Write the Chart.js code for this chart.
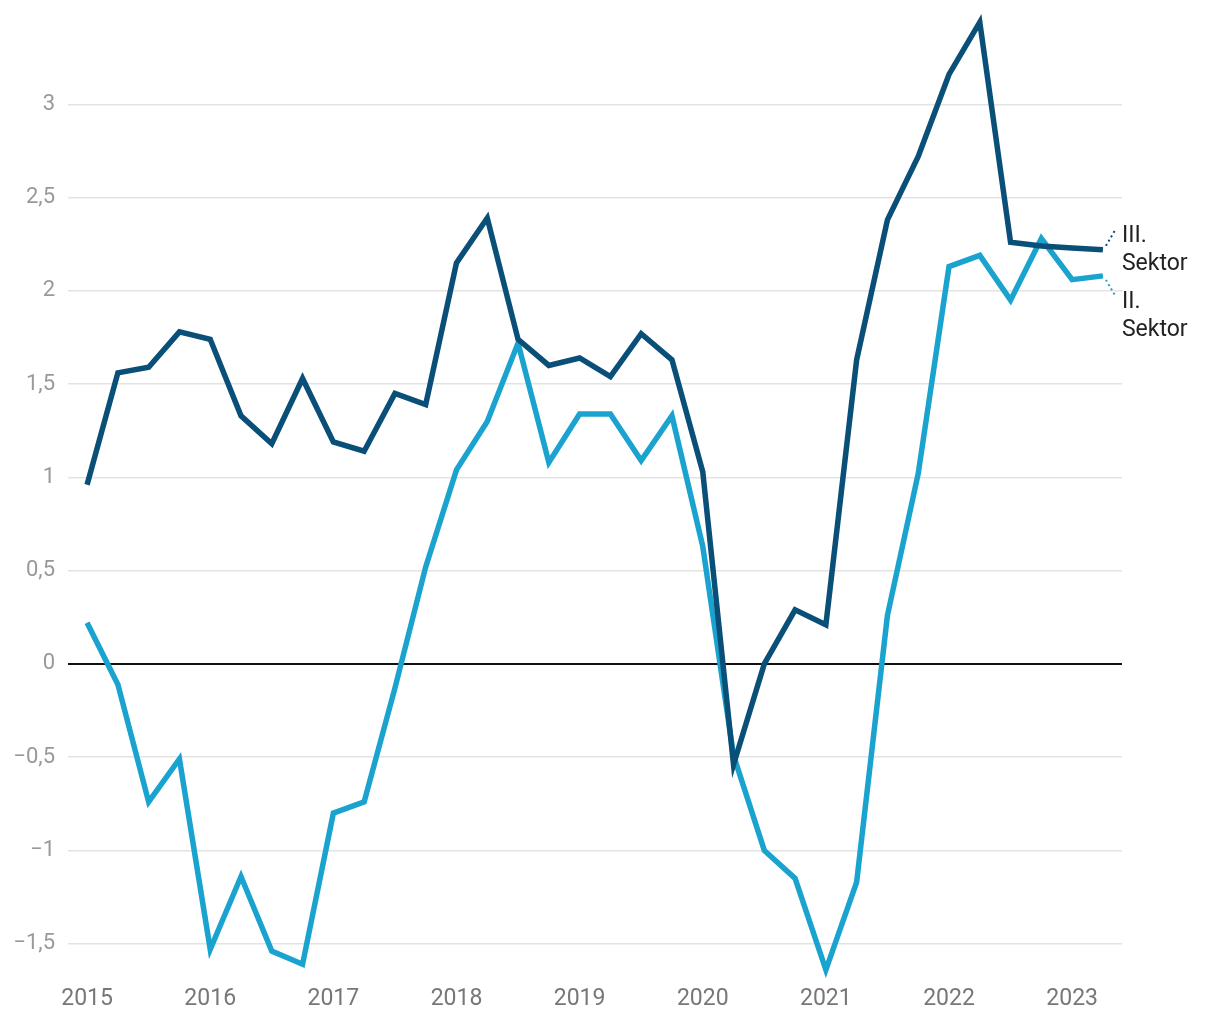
<!DOCTYPE html>
<html>
<head>
<meta charset="utf-8">
<script src="https://cdn.jsdelivr.net/npm/chart.js@4/dist/chart.umd.min.js"></script>
<style>
    html, body { margin: 0; padding: 0; background: #fff; }
    #wrap { width: 1220px; height: 1020px; }
</style>
</head>
<body>
<div id="wrap"><canvas id="chart" width="1220" height="1020"></canvas></div>
<script>
// quarterly values, 2015 Q1 .. 2023 Q2
const quarters = [];
for (let y = 2015; y <= 2023; ++y) {
    for (let q = 1; q <= 4; ++q) {
        if (y === 2023 && q > 2) break;
        quarters.push(y + ' Q' + q);
    }
}

const sektorIII = [
    0.96, 1.56, 1.59, 1.78, 1.74, 1.33, 1.18, 1.53,
    1.19, 1.14, 1.45, 1.39, 2.15, 2.39, 1.74, 1.60,
    1.64, 1.54, 1.77, 1.63, 1.03, -0.54, 0.00, 0.29,
    0.21, 1.63, 2.38, 2.72, 3.16, 3.44, 2.26, 2.24,
    2.23, 2.22
];

const sektorII = [
    0.22, -0.11, -0.74, -0.51, -1.53, -1.14, -1.54, -1.61,
    -0.80, -0.74, -0.13, 0.52, 1.04, 1.30, 1.72, 1.08,
    1.34, 1.34, 1.09, 1.33, 0.63, -0.49, -1.00, -1.15,
    -1.64, -1.17, 0.26, 1.02, 2.13, 2.19, 1.95, 2.28,
    2.06, 2.08
];

const yearTicks = [2015, 2016, 2017, 2018, 2019, 2020, 2021, 2022, 2023];
const valueTicks = [-1.5, -1, -0.5, 0, 0.5, 1, 1.5, 2, 2.5, 3];
const seriesLabels = [['III.', 'Sektor'], ['II.', 'Sektor']];

const darkBlue  = '#0a4f77';
const lightBlue = '#1aa3cf';

const toX = (label) => {
    const parts = label.split(' Q');
    return parseInt(parts[0]) + (parseInt(parts[1]) - 1) / 4;
};

const points = (values) => values.map((v, i) => ({x: toX(quarters[i]), y: v}));

const fmt = (v) => {
    const s = String(Math.abs(v)).replace('.', ',');
    return v < 0 ? '\u2212' + s : s;
};

const endLabels = {
    id: 'endLabels',
    afterDatasetsDraw (chart)
    {
        const ctx = chart.ctx;
        const xs  = chart.scales.x;
        const ys  = chart.scales.y;
        const setup = [
            {ds: 0, color: darkBlue,  dy: -1, lines: seriesLabels[0]},
            {ds: 1, color: lightBlue, dy: 1,  lines: seriesLabels[1]}
        ];

        ctx.save();
        setup.forEach((s) => {
            const data = chart.data.datasets[s.ds].data;
            const last = data[data.length - 1];
            const px   = xs.getPixelForValue(last.x);
            const py   = ys.getPixelForValue(last.y);

            ctx.strokeStyle = s.color;
            ctx.lineWidth   = 2;
            ctx.setLineDash([2, 3]);
            ctx.beginPath();
            ctx.moveTo(px + 3, py + s.dy * 4);
            ctx.lineTo(px + 13, py + s.dy * 21);
            ctx.stroke();
            ctx.setLineDash([]);

            ctx.fillStyle    = '#222';
            ctx.font         = '23px Roboto';
            ctx.textAlign    = 'left';
            ctx.textBaseline = 'middle';
            const top = s.dy < 0 ? py - 14 : py + 26;
            s.lines.forEach((t, i) => ctx.fillText(t, px + 19, top + i * 28));
        });
        ctx.restore();
    }
};

new Chart(document.getElementById('chart').getContext('2d'), {
    type: 'line',
    data: {
        datasets: [
            {
                label: 'III. Sektor',
                data: points(sektorIII),
                borderColor: darkBlue,
                borderWidth: 5.5,
                pointRadius: 0,
                tension: 0,
                clip: false
            },
            {
                label: 'II. Sektor',
                data: points(sektorII),
                borderColor: lightBlue,
                borderWidth: 5.5,
                pointRadius: 0,
                tension: 0,
                clip: false
            }
        ]
    },
    options: {
        responsive: false,
        animation: false,
        layout: {padding: {left: 0, right: 98, top: 11, bottom: 0}},
        plugins: {legend: {display: false}, tooltip: {enabled: false}},
        scales: {
            x: {
                type: 'linear',
                min: 2015 - 0.155,
                max: 2023.25 + 0.155,
                afterBuildTicks: (scale) => { scale.ticks = yearTicks.map((v) => ({value: v})); },
                afterFit: (scale) => { scale.height = 39; },
                grid: {display: false, drawTicks: false},
                border: {display: false},
                ticks: {
                    padding: 4,
                    color: '#777',
                    font: {family: 'Roboto', size: 23},
                    maxRotation: 0,
                    callback: (v) => String(v)
                }
            },
            y: {
                min: -1.7,
                max: 3.5,
                afterBuildTicks: (scale) => { scale.ticks = valueTicks.map((v) => ({value: v})); },
                afterFit: (scale) => {
                    scale.width = 68;
                    scale.paddingTop = 0;
                    scale.paddingBottom = 0;
                },
                grid: {
                    drawTicks: false,
                    color: (c) => c.tick && c.tick.value === 0 ? '#111' : '#e3e3e3',
                    lineWidth: (c) => c.tick && c.tick.value === 0 ? 2 : 1.5
                },
                border: {display: false},
                ticks: {
                    padding: 13,
                    color: '#999',
                    font: {family: 'Roboto', size: 22},
                    callback: (v) => fmt(v)
                }
            }
        }
    },
    plugins: [endLabels]
});
</script>
</body>
</html>
